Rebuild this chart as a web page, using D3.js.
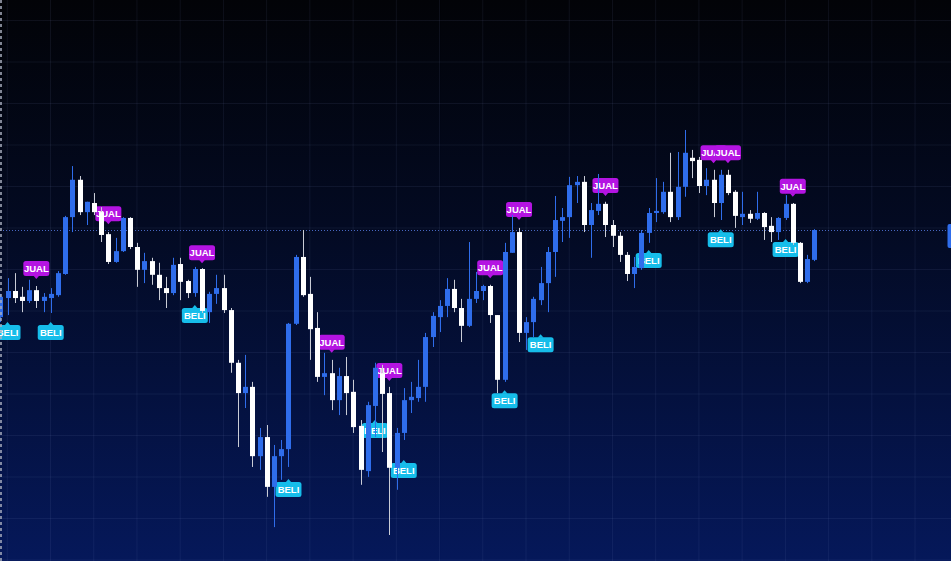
<!DOCTYPE html>
<html><head><meta charset="utf-8">
<script src="https://cdn.jsdelivr.net/npm/d3@7"></script>
<style>html,body{margin:0;padding:0;background:#03050d;overflow:hidden}</style>
</head><body><svg id="c" width="951" height="561"></svg>
<script>
// ---- DATA (arbitrary price units) ----
const opens  = [158.4,163.0,164.7,163.3,162.3,164.9,162.3,163.0,163.7,168.8,
                182.5,191.5,183.7,185.9,183.7,178.4,171.7,174.3,182.3,175.3,
                169.8,171.9,168.6,165.4,164.2,171.2,167.1,164.2,170.0,159.6,
                164.0,165.4,160.1,147.4,140.1,141.6,124.9,129.5,117.5,124.9,
                126.6,156.8,172.9,164.0,155.8,144.0,144.9,138.4,144.2,140.4,
                132.2,121.3,137.0,144.9,140.1,122.1,130.5,138.4,138.9,141.6,
                153.6,158.4,161.1,165.2,160.6,156.3,162.8,164.7,165.9,158.9,
                143.3,173.9,178.9,154.6,157.2,162.5,166.6,174.1,181.6,182.5,
                190.2,191.0,180.6,184.0,185.7,180.6,178.0,173.4,168.8,170.2,
                178.7,183.5,183.7,188.6,182.5,189.8,196.8,196.3,190.0,191.5,
                185.9,192.7,188.6,182.5,183.3,182.1,183.5,180.4,178.9,182.3,
                185.7,176.3,166.9,172.2];
const highs  = [164.0,167.8,169.0,165.7,167.4,165.9,164.2,165.4,169.5,182.8,
                194.8,192.4,186.2,188.3,184.9,178.9,177.5,182.5,182.5,176.3,
                173.9,172.7,171.5,168.1,172.7,172.7,167.4,170.5,170.2,164.5,
                168.6,168.6,160.6,148.1,149.3,142.8,131.7,132.4,127.6,128.8,
                157.0,173.4,179.4,168.1,159.6,149.8,148.1,146.2,148.8,143.3,
                133.6,138.0,147.4,146.9,141.6,131.7,141.3,142.8,148.1,154.6,
                159.6,162.5,167.8,167.4,162.8,176.5,169.3,166.2,166.2,158.9,
                176.3,183.0,179.9,158.4,163.3,170.5,175.3,187.6,184.7,192.2,
                192.4,192.4,185.9,192.9,186.2,181.8,178.9,174.1,172.9,179.4,
                184.7,191.9,191.0,198.0,198.2,203.5,198.7,197.0,194.3,193.9,
                193.9,193.9,189.0,188.6,184.2,188.6,183.7,182.5,182.5,187.8,
                185.9,176.5,173.4,179.6];
const lows   = [157.2,158.9,161.8,159.6,161.8,160.6,159.6,159.4,163.3,168.6,
                178.9,183.0,180.6,183.0,176.5,171.2,171.5,174.1,174.8,165.7,
                166.6,166.2,162.5,160.6,163.7,162.5,163.0,163.3,159.4,157.0,
                161.6,159.4,145.0,127.1,136.5,122.3,121.6,115.1,107.8,119.2,
                122.3,156.5,163.3,148.1,142.8,139.6,136.0,134.8,134.8,130.5,
                118.0,119.9,129.5,125.9,105.9,116.8,128.8,135.3,138.0,138.0,
                151.2,154.8,158.4,159.6,152.4,156.0,161.8,162.5,157.0,140.1,
                142.8,173.9,152.4,150.5,153.6,161.3,159.6,168.1,176.5,177.5,
                185.9,178.9,172.7,183.0,177.7,175.3,171.7,167.1,165.4,169.8,
                176.3,181.3,183.3,181.3,181.8,187.4,191.9,188.3,187.8,182.5,
                181.8,187.8,179.9,180.6,181.1,181.8,177.0,176.5,177.0,181.8,
                175.8,166.6,166.6,171.9];
const closes = [163.3,164.7,163.0,162.3,164.9,162.3,163.3,164.0,169.0,182.5,
                191.5,183.7,186.2,183.7,178.2,171.7,174.3,182.3,175.3,169.8,
                171.9,168.6,165.4,164.2,171.0,166.9,164.2,170.0,159.9,164.0,
                165.4,160.1,147.4,140.1,141.6,124.9,129.5,117.5,124.9,126.6,
                156.8,172.9,163.7,155.5,144.0,144.9,138.4,144.2,140.1,131.9,
                121.6,137.2,146.2,139.9,122.1,130.5,138.4,139.2,141.6,153.6,
                158.7,161.1,165.2,160.6,156.3,162.8,164.7,165.9,158.9,143.3,
                174.1,178.9,154.6,157.2,162.8,166.6,174.1,181.8,182.5,190.2,
                191.0,180.6,184.2,185.7,180.6,178.0,173.4,168.8,170.5,178.7,
                183.5,184.0,188.6,182.5,189.8,198.0,196.0,190.0,191.5,185.9,
                192.7,188.3,182.8,183.3,182.1,183.5,180.1,178.9,182.3,185.7,
                176.3,166.9,172.4,179.4];

// signal labels: bar index and the price where the label's pointer sits
const sellText  = "JUAL";
const sellIndex = [5, 15, 28, 46, 54, 68, 72, 84, 99, 101, 110];
const sellPrice = [167.6,180.8,171.4,149.8,143.0,167.8,181.8,187.6,195.5,195.5,187.4];
const buyText   = "BELI";
const buyIndex  = [1, 7, 27, 40, 52, 56, 70, 75, 90, 100, 109];
const buyPrice  = [157.2,157.2,161.3,119.4,133.6,124.0,140.8,154.3,174.6,179.6,177.2];

const gridPrices = d3.range(100, 231, 10);

// ---- DRAWING ----
const W = 951, H = 561;
const svg = d3.select("#c");
const defs = svg.append("defs");
const grad = defs.append("linearGradient").attr("id","bg")
  .attr("x1",0).attr("y1",0).attr("x2",0).attr("y2",1);
grad.append("stop").attr("offset","0%").attr("stop-color","#020307");
grad.append("stop").attr("offset","40%").attr("stop-color","#030a22");
grad.append("stop").attr("offset","100%").attr("stop-color","#05185a");
svg.append("rect").attr("width",W).attr("height",H).attr("fill","url(#bg)");

const bars = d3.range(opens.length).map(i => ({i, o:opens[i], h:highs[i], l:lows[i], c:closes[i]}));
const x = d3.scaleLinear().domain([0, 113]).range([0.3, 814.4]);
const y = d3.scaleLinear().domain([100, 230]).range([559.5, 20]);

// grid via axes
const gridXIdx = d3.range(-1, 21).map(k => 6.9 + 6*k).filter(v => x(v) >= 0 && x(v) <= W);
const gx = svg.append("g").attr("transform", `translate(0,${H})`)
  .call(d3.axisBottom(x).tickValues(gridXIdx).tickSize(-H).tickFormat(""));
const gy = svg.append("g")
  .call(d3.axisLeft(y).tickValues(gridPrices).tickSize(-W).tickFormat(""));
[gx, gy].forEach(g => {
  g.select(".domain").remove();
  g.selectAll("line").attr("stroke","#8c9cd0").attr("stroke-opacity",0.09).attr("stroke-width",1);
});

// last price dotted line
const last = closes[closes.length-1];
svg.append("line").attr("x1",0).attr("x2",W)
  .attr("y1",Math.round(y(last))+0.5).attr("y2",Math.round(y(last))+0.5)
  .attr("stroke","#5a7ee8").attr("stroke-opacity",0.8).attr("stroke-width",1)
  .attr("stroke-dasharray","1,2");

// labels (drawn beneath candles)
const lw = 26, lh = 15;
const labG = svg.append("g");
function drawLabel(i, price, text, up, fill){
  const cx = x(i), tip = y(price);
  const g = labG.append("g");
  let boxY, tri;
  if(!up){ // JUAL: box above, pointer down
    boxY = tip - 3 - lh;
    tri = [[cx-3, tip-3.5],[cx+3, tip-3.5],[cx, tip]];
  } else { // BELI: box below, pointer up
    boxY = tip + 3;
    tri = [[cx-3, tip+3.5],[cx+3, tip+3.5],[cx, tip]];
  }
  g.append("rect").attr("x",cx-lw/2).attr("y",boxY).attr("width",lw).attr("height",lh)
    .attr("rx",2.5).attr("fill",fill);
  g.append("path").attr("d", d3.line()(tri)+"Z").attr("fill",fill);
  g.append("text").attr("x",cx).attr("y",boxY+lh/2+3.3).attr("text-anchor","middle")
    .attr("font-family","Liberation Sans, Arial, sans-serif").attr("font-size",9.5)
    .attr("font-weight",600).attr("fill","#ffffff").text(text);
}
buyIndex.forEach((i,k) => drawLabel(i, buyPrice[k], buyText, true, "#16bdea"));
sellIndex.forEach((i,k) => drawLabel(i, sellPrice[k], sellText, false, "#b414e2"));

// candles
const up = "#2f6deb", down = "#ffffff";
const cg = svg.append("g");
cg.selectAll("line.w").data(bars).join("line").attr("class","w")
  .attr("x1",d=>Math.round(x(d.i))+0.5).attr("x2",d=>Math.round(x(d.i))+0.5)
  .attr("y1",d=>y(d.h)).attr("y2",d=>y(d.l))
  .attr("stroke",d=>d.c>=d.o?up:"#c9ccd6").attr("stroke-width",1);
cg.selectAll("rect.b").data(bars).join("rect").attr("class","b")
  .attr("x",d=>Math.round(x(d.i))-2).attr("width",5)
  .attr("y",d=>y(Math.max(d.o,d.c)))
  .attr("height",d=>Math.max(1.5, Math.abs(y(d.o)-y(d.c))))
  .attr("fill",d=>d.c>=d.o?up:down);

// clipped last-price tag at right edge
svg.append("rect").attr("x",947.5).attr("y",y(last)-6).attr("width",12).attr("height",24)
  .attr("rx",2).attr("fill",up);

// left dashed marker
svg.append("line").attr("x1",1).attr("x2",1).attr("y1",0).attr("y2",H)
  .attr("stroke","#aab0c0").attr("stroke-width",1.5).attr("stroke-dasharray","3,3");
</script></body></html>
